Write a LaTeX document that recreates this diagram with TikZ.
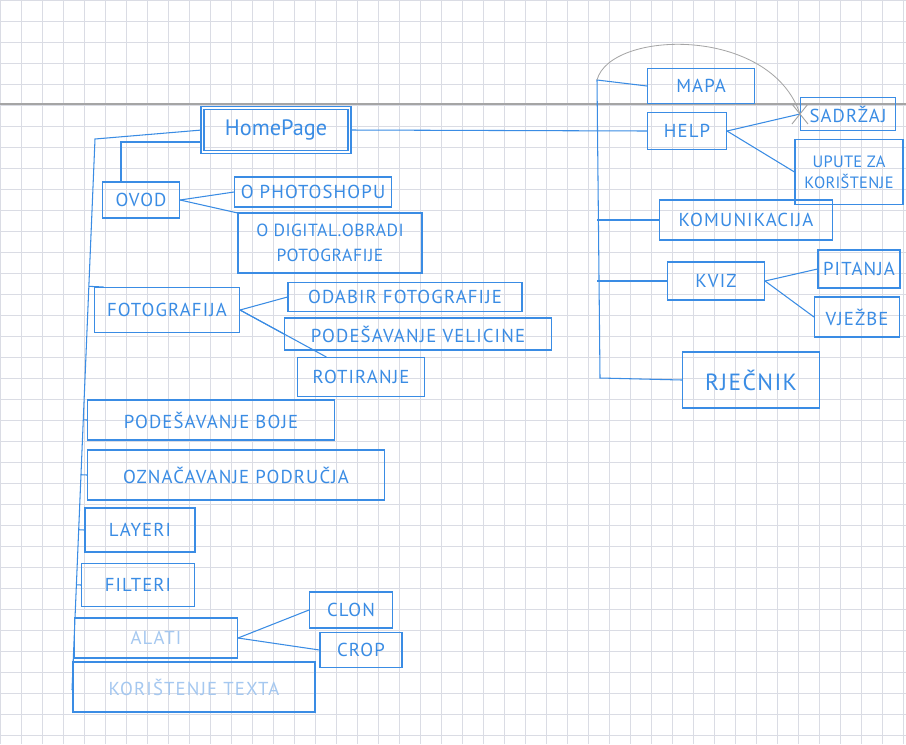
\documentclass[tikz,border=0pt]{standalone}
\usepackage{fontspec}
\setmainfont{PT Sans}
\usetikzlibrary{calc}
\definecolor{penblue}{RGB}{58,140,228}
\definecolor{paleblue}{RGB}{165,200,240}
\definecolor{gridgray}{RGB}{218,220,228}
\definecolor{pencil}{RGB}{165,165,165}
\tikzset{
  box/.style 2 args={draw=penblue, line width=0.9pt, text=penblue, minimum width=#1*0.03cm, minimum height=#2*0.03cm, inner sep=1pt, align=center, font=\fontsize{16}{20}\selectfont\addfontfeature{LetterSpace=6}},
  faint/.style={text=paleblue},
  link/.style={draw=penblue, line width=0.9pt}
}
\begin{document}
\begin{tikzpicture}[x=0.03cm, y=-0.03cm]
    \clip (0,0) rectangle (906,744);
    \fill [white] (0,0) rectangle (906,744);
    \draw [gridgray, step=0.63cm] (0,0) grid (906,744);
    \draw [pencil, line width=1.2pt] (0,104) -- (906,104);

    \node [box={147}{44}, double, double distance=1.6pt, line width=1pt, font=\fontsize{19}{22}\selectfont] (home) at (276,130) {HomePage};
    \node [box={77}{36}] (ovod) at (141,200) {OVOD};
    \node [box={157}{30}] (photo) at (313,192) {O PHOTOSHOPU};
    \node [box={184}{60}, font=\fontsize{15}{21}\selectfont\addfontfeature{LetterSpace=3}] (digital) at (330,243) {O DIGITAL.OBRADI\\POTOGRAFIJE};
    \node [box={145}{45}] (foto) at (167,310) {FOTOGRAFIJA};
    \node [box={234}{29}] (odabir) at (405,297) {ODABIR FOTOGRAFIJE};
    \node [box={267}{32}] (velicine) at (418,334) {PODEŠAVANJE VELICINE};
    \node [box={127}{39}] (rotir) at (361,377) {ROTIRANJE};
    \node [box={247}{40}] (boje) at (211,420) {PODEŠAVANJE BOJE};
    \node [box={297}{50}] (oznac) at (236,475) {OZNAČAVANJE PODRUČJA};
    \node [box={110}{44}] (layeri) at (140,530) {LAYERI};
    \node [box={113}{43}] (filteri) at (138,585) {FILTERI};
    \node [box={163}{40}, faint] (alati) at (156,638) {ALATI};
    \node [box={83}{36}] (clon) at (351,610) {CLON};
    \node [box={82}{35}] (crop) at (361,650) {CROP};
    \node [box={242}{50}, faint] (korist) at (194,687) {KORIŠTENJE TEXTA};

    \node [box={107}{35}] (mapa) at (701,86) {MAPA};
    \node [box={79}{37}] (help) at (687,131) {HELP};
    \node [box={95}{33}] (sadrzaj) at (848,114) {SADRŽAJ};
    \node [box={108}{65}, font=\fontsize{14}{18}\selectfont\addfontfeature{LetterSpace=2}] (upute) at (849,172) {UPUTE ZA\\KORIŠTENJE};
    \node [box={173}{40}] (komun) at (746,220) {KOMUNIKACIJA};
    \node [box={97}{38}] (kviz) at (716,281) {KVIZ};
    \node [box={82}{38}] (pitanja) at (859,269) {PITANJA};
    \node [box={85}{40}] (vjezbe) at (857,317) {VJEŽBE};
    \node [box={137}{56}, font=\fontsize{20}{24}\selectfont\addfontfeature{LetterSpace=6}] (rjecnik) at (751,380) {RJEČNIK};

    \coordinate (ltop) at (95,139);
    \coordinate (lbot) at (72,690);
    \coordinate (rtop) at (597,80);
    \coordinate (rbot) at (600,378);

    \draw [link] (home.west) -- (ltop) -- (lbot) -- (korist.west);
    \draw [link] ($(home.west)+(0,12)$) -| ($(ovod.north)+(-20,0)$);
    \draw [link] ($(ltop)!(foto.160)!(lbot)$) -- (foto.160);
    \draw [link] ($(ltop)!(boje.west)!(lbot)$) -- (boje.west);
    \draw [link] ($(ltop)!(oznac.west)!(lbot)$) -- (oznac.west);
    \draw [link] ($(ltop)!(layeri.west)!(lbot)$) -- (layeri.west);
    \draw [link] ($(ltop)!(filteri.west)!(lbot)$) -- (filteri.west);
    \draw [link] ($(ltop)!(alati.west)!(lbot)$) -- (alati.west);
    \draw [link] (ovod.east) -- (photo.west);
    \draw [link] (ovod.east) -- (digital.162);
    \draw [link] (foto.east) -- (odabir.west);
    \draw [link] (foto.east) -- (velicine.west);
    \draw [link] (foto.east) -- (rotir.150);
    \draw [link] (alati.east) -- (clon.west);
    \draw [link] (alati.east) -- (crop.west);

    \draw [link] (home.east) -- (help.west);
    \draw [link] (mapa.west) -- (rtop) -- (rbot) -- (rjecnik.west);
    \draw [link] (komun.west -| rtop) -- (komun.west);
    \draw [link] (kviz.west -| rtop) -- (kviz.west);
    \draw [link] (help.east) -- (sadrzaj.west);
    \draw [link] (help.east) -- (upute.west);
    \draw [link] (kviz.east) -- (pitanja.west);
    \draw [link] (kviz.east) -- (vjezbe.west);

    \draw [pencil, line width=0.7pt] (rtop) .. controls (610,30) and (770,25) .. (sadrzaj.west);
    \draw [pencil, line width=0.8pt] ($(sadrzaj.west)+(-8,-10)$) -- ($(sadrzaj.west)+(8,10)$);
    \draw [pencil, line width=0.8pt] ($(sadrzaj.west)+(-8,10)$) -- ($(sadrzaj.west)+(8,-10)$);
\end{tikzpicture}
\end{document}
